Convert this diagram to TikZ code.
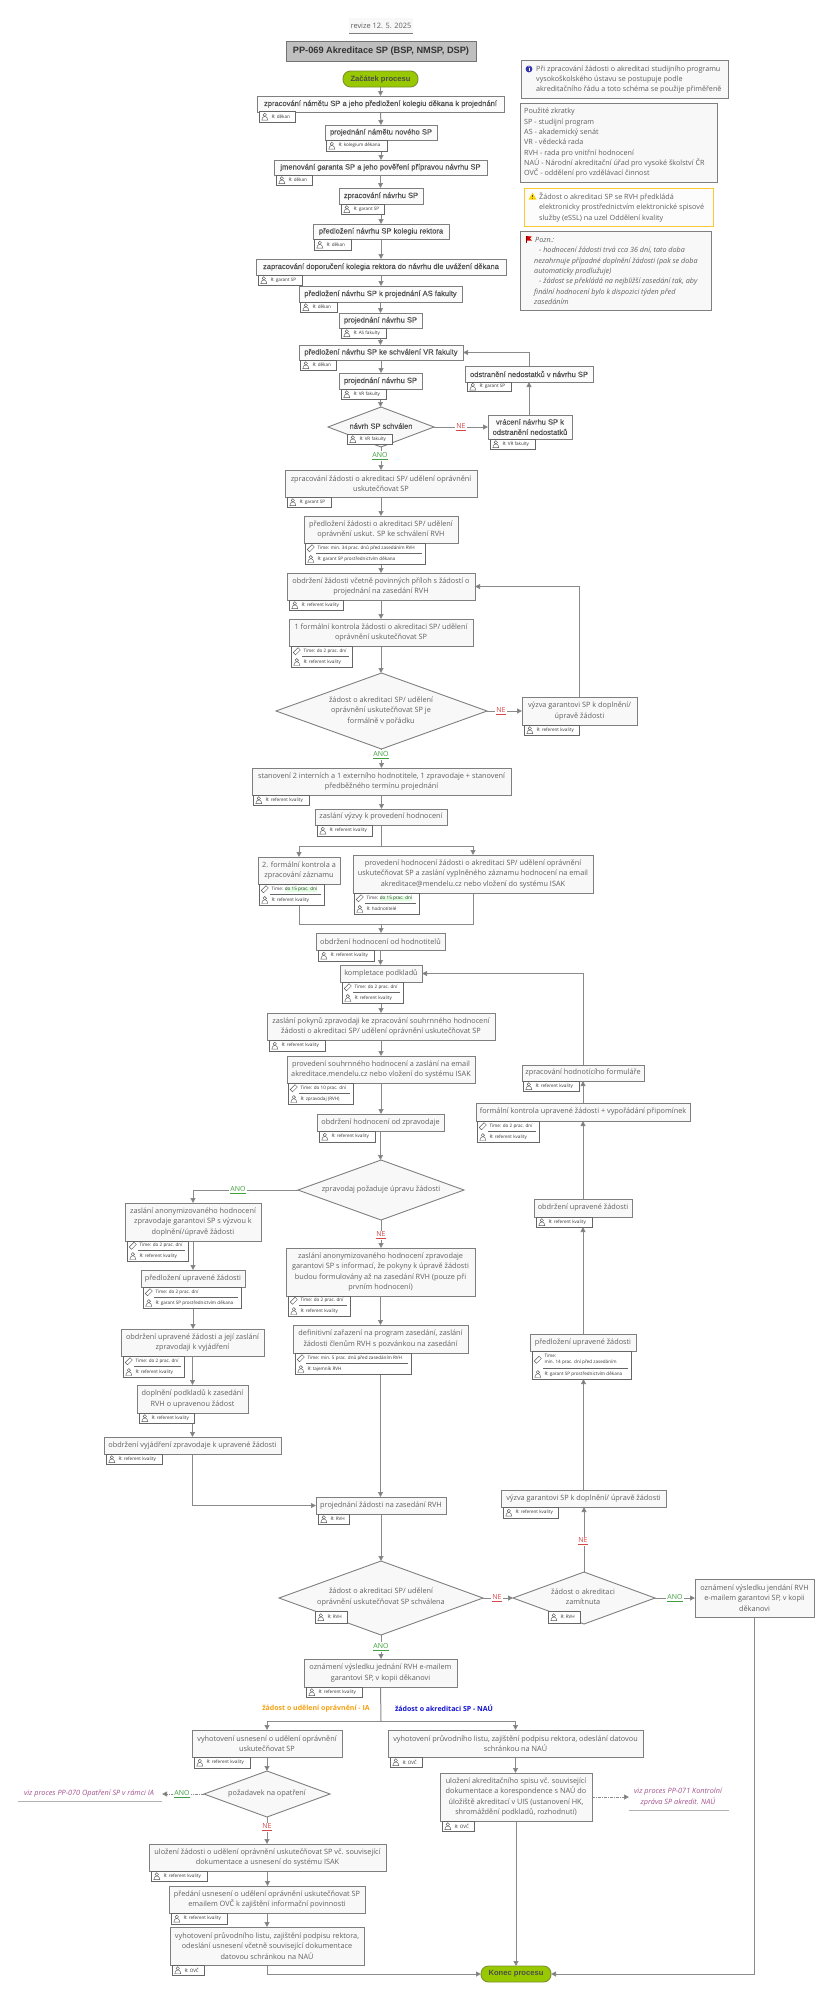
\documentclass[tikz,border=0pt]{standalone}
\usepackage{fontspec}
\setmainfont{Open Sans}
\newfontfamily\upf[FakeBold=0.12]{Liberation Sans}
\newfontfamily\arb{Liberation Sans}
\usetikzlibrary{shapes.geometric,arrows.meta,positioning}
\pgfdeclarelayer{bg}\pgfsetlayers{bg,main}
\definecolor{bordc}{HTML}{7F7F7F}
\definecolor{linec}{HTML}{8A8A8A}
\definecolor{fillc}{HTML}{F8F8F8}
\definecolor{txtc}{HTML}{5F5F5F}
\definecolor{uptxt}{HTML}{505050}
\definecolor{tagb}{HTML}{666666}
\definecolor{okc}{HTML}{3F9F3F}
\definecolor{noc}{HTML}{D4474B}
\definecolor{greenf}{HTML}{97C800}
\definecolor{greenb}{HTML}{7D8F30}
\definecolor{purp}{HTML}{A2508E}
\definecolor{orang}{HTML}{F5A010}
\definecolor{blu}{HTML}{1414D0}
\tikzset{
 stepbox/.style={draw=bordc,line width=0.9pt,fill=fillc,inner sep=0pt,outer sep=0pt,align=center,text=txtc,font=\fontsize{7.3}{10.3}\selectfont},
 upbox/.style={stepbox,fill=white!50!fillc,text=uptxt,font=\upf\fontsize{7.55}{10.3}\selectfont},
 tagbox/.style={draw=tagb,line width=0.7pt,fill=white,inner sep=0pt,outer sep=0pt},
 tagtext/.style={inner sep=0pt,outer sep=0pt,anchor=west,align=left,text=black!80,font=\fontsize{4.6}{6}\selectfont},
 dmd/.style={diamond,draw=bordc,line width=0.9pt,fill=fillc,inner sep=0pt,outer sep=0pt},
 dtext/.style={inner sep=0pt,align=center,text=txtc,font=\fontsize{7.3}{10.3}\selectfont},
 notebox/.style={draw=bordc,line width=0.9pt,fill=fillc,inner sep=0pt,outer sep=0pt},
 notetext/.style={inner sep=0pt,anchor=west,align=left,text=txtc,font=\fontsize{7.2}{10.3}\selectfont},
 termbox/.style={rectangle,rounded corners=7.5pt,draw=greenb,line width=0.9pt,fill=greenf,inner sep=0pt,outer sep=0pt,text=black!70,font=\arb\bfseries\fontsize{7.6}{9}\selectfont},
 arr/.style={draw=linec,line width=1pt,-{Triangle[length=5pt,width=5pt,fill=linec!80!black]}},
 lin/.style={draw=linec,line width=1pt},
 darr/.style={arr,dash pattern=on 3pt off 1pt on 1pt off 1pt},
 okl/.style={inner sep=1pt,fill=white,text=okc,font=\fontsize{7}{8}\selectfont},
 nol/.style={inner sep=1pt,fill=white,text=noc,font=\fontsize{7}{8}\selectfont},
 viz/.style={inner sep=0pt,align=center,text=purp,font=\itshape\fontsize{7.3}{10.2}\selectfont},
 icon/.style={draw=black!65,line width=0.45pt,fill=none},
}
% box: [style]{name}{x1}{y1}{x2}{y2}{text}
\newcommand{\bx}[7][stepbox]{%
 \pgfmathsetmacro\cxv{(#3+#5)/2}\pgfmathsetmacro\cyv{(#4+#6)/2}%
 \pgfmathsetmacro\wv{#5-#3}\pgfmathsetmacro\hv{#6-#4}%
 \node[#1,minimum width=\wv pt,minimum height=\hv pt] (#2) at (\cxv,\cyv) {#7};}
\newcommand{\persn}[2]{%
 \draw[icon] (#1,#2-1.6) circle (1.7pt);
 \draw[icon] (#1-3,#2+3.7) .. controls (#1-3,#2+1) and (#1-1.5,#2+0.6) .. (#1-1,#2+0.2) -- (#1+1,#2+0.2) .. controls (#1+1.5,#2+0.6) and (#1+3,#2+1) .. (#1+3,#2+3.7) -- cycle;}
\newcommand{\timeico}[2]{%
 \draw[icon,rotate around={45:(#1,#2)}] (#1-3.4,#2-1.6) rectangle (#1+3.4,#2+1.6);}
% tag with responsible only: {name}{x1}{y1}{x2}{y2}{text}
\newcommand{\tagA}[6]{%
 \bx[tagbox]{#1}{#2}{#3}{#4}{#5}{}%
 \pgfmathsetmacro\ic{#2+5.8}\pgfmathsetmacro\jc{(#3+#5)/2}\pgfmathsetmacro\tc{#2+12.5}%
 \persn{\ic}{\jc}%
 \node[tagtext] (#1t) at (\tc,\jc) {#6};}
% tag with time and responsible
\newcommand{\tagB}[7]{%
 \bx[tagbox]{#1}{#2}{#3}{#4}{#5}{}%
 \pgfmathsetmacro\ic{#2+5.8}\pgfmathsetmacro\tc{#2+12.5}%
 \pgfmathsetmacro\ja{(#3+#5-10.5)/2}\pgfmathsetmacro\jb{#5-5.2}\pgfmathsetmacro\jd{#5-10.5}%
 \pgfmathsetmacro\xe{#4-3}\pgfmathsetmacro\xf{#2+11}%
 \timeico{\ic}{\ja}\persn{\ic}{\jb}%
 \draw[draw=tagb,line width=0.5pt] (\xf,\jd) -- (\xe,\jd);
 \node[tagtext] (#1t) at (\tc,\ja) {#6};
 \node[tagtext] (#1u) at (\tc,\jb) {#7};}
\newcommand{\grn}[1]{{\setlength{\fboxsep}{0pt}\colorbox{green!12}{#1}}}
\begin{document}
\begin{tikzpicture}[x=1pt,y=-1pt]
\useasboundingbox (0,0) rectangle (831,2000);
% header
\bx[draw=none,fill=fillc,inner sep=0pt,outer sep=0pt,text=txtc,font=\fontsize{7.4}{9}\selectfont]{rev}{349}{18}{413}{33}{revize 12. 5. 2025}
\draw[draw=bordc,line width=0.7pt] (rev.south west) -- (rev.south east);
\bx[draw=black!55,line width=0.9pt,fill=black!25,inner sep=0pt,outer sep=0pt,text=black!80,font=\arb\bfseries\fontsize{9.2}{11}\selectfont]{title}{286}{41}{476}{61}{PP-069 Akreditace SP (BSP, NMSP, DSP)}
\bx[termbox]{start}{343}{71}{418}{87}{Začátek procesu}
% upper steps
\bx[upbox]{s1}{257}{96}{504}{112}{zpracování námětu SP a jeho předložení kolegiu děkana k projednání}
\tagA{s1r}{259}{111}{295}{122}{R: děkan}
\bx[upbox]{s2}{325}{125}{437}{140}{projednání námětu nového SP}
\tagA{s2r}{326}{140}{387}{151}{R: kolegium děkana}
\bx[upbox]{s3}{274}{160}{487}{175}{jmenování garanta SP a jeho pověření přípravou návrhu SP}
\tagA{s3r}{276}{175}{312}{185}{R: děkan}
\bx[upbox]{s4}{339}{188}{423}{204}{zpracování návrhu SP}
\tagA{s4r}{341}{204}{384}{214}{R: garant SP}
\bx[upbox]{s5}{313}{224}{449}{239}{předložení návrhu SP kolegiu rektora}
\tagA{s5r}{314}{239}{351}{250}{R: děkan}
\bx[upbox]{s6}{256}{259}{506}{275}{zapracování doporučení kolegia rektora do návrhu dle uvážení děkana}
\tagA{s6r}{258}{275}{302}{285}{R: garant SP}
\bx[upbox]{s7}{299}{286}{462}{302}{předložení návrhu SP k projednání AS fakulty}
\tagA{s7r}{300}{302}{337}{312}{R: děkan}
\bx[upbox]{s8}{339}{313}{422}{328}{projednání návrhu SP}
\tagA{s8r}{341}{328}{386}{338}{R: AS fakulty}
\bx[upbox]{s9}{299}{345}{463}{360}{předložení návrhu SP ke schválení VR fakulty}
\tagA{s9r}{300}{360}{336}{370}{R: děkan}
\bx[upbox]{s10}{339}{373}{422}{389}{projednání návrhu SP}
\tagA{s10r}{341}{389}{386}{399}{R: VR fakulty}
\bx[dmd]{d1}{328}{407}{434}{447}{}
\node[dtext,font=\upf\fontsize{7.55}{10.3}\selectfont,text=uptxt] (d1t) at (381,426) {návrh SP schválen};
\tagA{d1r}{347}{434}{392}{444}{R: VR fakulty}
\bx[upbox]{r1}{488}{415}{572}{439}{vrácení návrhu SP k\\odstranění nedostatků}
\tagA{r1r}{490}{439}{535}{449}{R: VR fakulty}
\bx[upbox]{r2}{465}{366}{593}{382}{odstranění nedostatků v návrhu SP}
\tagA{r2r}{467}{382}{511}{391}{R: garant SP}
% application
\bx{s11}{285}{470}{477}{497}{zpracování žádosti o akreditaci SP/ udělení oprávnění\\uskutečňovat SP}
\tagA{s11r}{287}{497}{331}{507}{R: garant SP}
\bx{s12}{304}{516}{458}{543}{předložení žádosti o akreditaci SP/ udělení\\oprávnění uskut. SP ke schválení RVH}
\tagB{s12r}{305}{543}{425}{564}{Time: min. 34 prac. dnů před zasedáním  RVH}{R: garant SP prostřednictvím děkana}
\bx{s13}{287}{573}{475}{600}{obdržení žádosti včetně povinných příloh s žádostí o\\projednání na zasedání RVH}
\tagA{s13r}{289}{600}{343}{610}{R: referent kvality}
\bx{s14}{289}{619}{473}{646}{1 formální kontrola žádosti o akreditaci SP/ udělení\\oprávnění uskutečňovat SP}
\tagB{s14r}{291}{646}{352}{667}{Time: do 2 prac. dní}{R: referent kvality}
\bx[dmd]{d2}{276}{673}{487}{749}{}
\node[dtext] (d2t) at (381,711) {žádost o akreditaci SP/ udělení\\oprávnění uskutečňovat SP je\\formálně v pořádku};
\bx{r3}{522}{697}{637}{725}{výzva garantovi SP k doplnění/\\úpravě žádosti}
\tagA{r3r}{524}{725}{579}{735}{R: referent kvality}
\bx{s15}{252}{768}{511}{795}{stanovení 2 interních a 1 externího hodnotitele, 1 zpravodaje + stanovení\\předběžného termínu projednání}
\tagA{s15r}{253}{795}{309}{805}{R: referent kvality}
\bx{s16}{315}{809}{447}{825}{zaslání výzvy k provedení hodnocení}
\tagA{s16r}{317}{825}{372}{836}{R: referent kvality}
\bx{s17}{258}{857}{340}{884}{2. formální kontrola a\\zpracování záznamu}
\tagB{s17r}{259}{884}{324}{905}{Time: \grn{do 15 prac. dní}}{R: referent kvality}
\bx{s18}{353}{855}{593}{893}{provedení hodnocení žádosti o akreditaci SP/ udělení oprávnění\\uskutečňovat SP a zaslání vyplněného záznamu hodnocení na email\\akreditace@mendelu.cz nebo vložení do systému ISAK}
\tagB{s18r}{354}{893}{419}{914}{Time: \grn{do 15 prac. dní}}{R: hodnotitelé}
\bx{s19}{316}{933}{445}{950}{obdržení hodnocení od hodnotitelů}
\tagA{s19r}{318}{950}{374}{961}{R: referent kvality}
\bx{s20}{340}{965}{422}{982}{kompletace podkladů}
\tagB{s20r}{342}{982}{403}{1003}{Time: do 2 prac. dní}{R: referent kvality}
\bx{s21}{267}{1013}{495}{1040}{zaslání pokynů zpravodaji ke zpracování souhrnného hodnocení\\žádosti o akreditaci SP/ udělení oprávnění uskutečňovat SP}
\tagA{s21r}{269}{1040}{325}{1051}{R: referent kvality}
\bx{s22}{287}{1056}{475}{1083}{provedení souhrnného hodnocení a zaslání na email\\akreditace.mendelu.cz nebo vložení do systému ISAK}
\tagB{s22r}{288}{1083}{353}{1104}{Time: do 10 prac. dní}{R: zpravodaj (RVH)}
\bx{s23}{317}{1114}{444}{1131}{obdržení hodnocení od zpravodaje}
\tagA{s23r}{319}{1131}{375}{1142}{R: referent kvality}
\bx[dmd]{d3}{298}{1160}{464}{1220}{}
\node[dtext] (d3t) at (381,1190) {zpravodaj požaduje úpravu žádosti};
\bx{s24}{286}{1248}{475}{1296}{zaslání anonymizovaného hodnocení zpravodaje\\garantovi SP s informací, že pokyny k úpravě žádosti\\budou formulovány až na zasedání RVH (pouze při\\prvním hodnocení)}
\tagB{s24r}{288}{1296}{350}{1316}{Time: do 2 prac. dní}{R: referent kvality}
\bx{s25}{293}{1325}{468}{1353}{definitivní zařazení na program zasedání, zaslání\\žádosti členům RVH s pozvánkou na zasedání}
\tagB{s25r}{295}{1353}{411}{1374}{Time: min. 5 prac. dnů před zasedáním RVH}{R: tajemník RVH}
% left branch
\bx{l1}{125}{1203}{261}{1241}{zaslání anonymizovaného hodnocení\\zpravodaje garantovi SP s výzvou k\\doplnění/úpravě žádosti}
\tagB{l1r}{127}{1241}{188}{1261}{Time: do 2 prac. dní}{R: referent kvality}
\bx{l2}{141}{1270}{245}{1287}{předložení upravené žádosti}
\tagB{l2r}{143}{1287}{241}{1308}{Time: do 2 prac. dní}{R: garant SP prostřednictvím děkana}
\bx{l3}{121}{1329}{264}{1356}{obdržení upravené žádosti a její zaslání\\zpravodaji k vyjádření}
\tagB{l3r}{123}{1356}{184}{1377}{Time: do 2 prac. dní}{R: referent kvality}
\bx{l4}{137}{1385}{248}{1413}{doplnění podkladů k zasedání\\RVH o upravenou žádost}
\tagA{l4r}{139}{1413}{194}{1423}{R: referent kvality}
\bx{l5}{104}{1437}{281}{1454}{obdržení vyjádření zpravodaje k upravené žádosti}
\tagA{l5r}{106}{1454}{162}{1464}{R: referent kvality}
% right column
\bx{r5}{522}{1065}{644}{1081}{zpracování hodnotícího formuláře}
\tagA{r5r}{523}{1081}{579}{1091}{R: referent kvality}
\bx{r6}{476}{1103}{690}{1121}{formální kontrola upravené žádosti + vypořádání připomínek}
\tagB{r6r}{477}{1121}{539}{1142}{Time: do 2 prac. dní}{R: referent kvality}
\bx{r7}{534}{1199}{632}{1217}{obdržení upravené žádosti}
\tagA{r7r}{536}{1217}{592}{1227}{R: referent kvality}
\bx{r8}{530}{1334}{636}{1351}{předložení upravené žádosti}
\tagB{r8r}{532}{1351}{631}{1379}{Time:\\min. 14 prac. dní před zasedáním}{R: garant SP prostřednictvím děkana}
\bx{r9}{501}{1490}{666}{1507}{výzva garantovi SP k doplnění/ úpravě žádosti}
\tagA{r9r}{503}{1507}{558}{1518}{R: referent kvality}
\bx{s26}{316}{1497}{446}{1514}{projednání žádosti na zasedání RVH}
\tagA{s26r}{318}{1514}{349}{1524}{R: RVH}
\bx[dmd]{d4}{279}{1561}{483}{1635}{}
\node[dtext] (d4t) at (381,1597) {žádost o akreditaci SP/ udělení\\oprávnění uskutečňovat SP schválena};
\tagA{d4r}{315}{1611}{347}{1623}{R: RVH}
\bx[dmd]{d5}{513}{1572}{655}{1624}{}
\node[dtext] (d5t) at (583,1597) {žádost o akreditaci\\zamítnuta};
\tagA{d5r}{548}{1611}{580}{1623}{R: RVH}
\bx{r10}{695}{1579}{814}{1617}{oznámení výsledku jendání RVH\\e-mailem garantovi SP, v kopii\\děkanovi}
\bx{s27}{304}{1659}{457}{1687}{oznámení výsledku jednání RVH e-mailem\\garantovi SP, v kopii děkanovi}
\tagA{s27r}{306}{1687}{362}{1697}{R: referent kvality}
\bx{a1}{192}{1730}{342}{1757}{vyhotovení usnesení o udělení oprávnění\\uskutečňovat SP}
\tagA{a1r}{194}{1757}{250}{1768}{R: referent kvality}
\bx[dmd]{d6}{204}{1771}{330}{1817}{}
\node[dtext] (d6t) at (267,1794) {požadavek na opatření};
\bx{a2}{149}{1844}{386}{1871}{uložení žádosti o udělení oprávnění uskutečňovat SP vč. související\\dokumentace a usnesení do systému ISAK}
\tagA{a2r}{151}{1871}{207}{1881}{R: referent kvality}
\bx{a3}{169}{1886}{365}{1913}{předání usnesení o udělení oprávnění uskutečňovat SP\\emailem OVČ k zajištění informační povinnosti}
\tagA{a3r}{171}{1913}{227}{1924}{R: referent kvality}
\bx{a4}{170}{1927}{364}{1965}{vyhotovení průvodního listu, zajištění podpisu rektora,\\odeslání usnesení včetně související dokumentace\\datovou schránkou na NAÚ}
\tagA{a4r}{172}{1965}{204}{1975}{R: OVČ}
\bx{s29}{388}{1730}{643}{1757}{vyhotovení průvodního listu, zajištění podpisu rektora, odeslání datovou\\schránkou na NAÚ}
\tagA{s29r}{390}{1757}{422}{1767}{R: OVČ}
\bx{s30}{440}{1773}{592}{1821}{uložení akreditačního spisu vč. související\\dokumentace a korespondence s NAÚ do\\úložiště akreditací v UIS (ustanovení HK,\\shromáždění podkladů, rozhodnutí)}
\tagA{s30r}{442}{1821}{474}{1831}{R: OVČ}
\bx[termbox]{end}{481}{1966}{551}{1982}{Konec procesu}
% external references
\node[viz] (v70) at (89,1794) {viz proces PP-070 Opatření SP v rámci IA};
\draw[draw=black!30,line width=0.8pt] (18,1801) -- (162,1801);
\coordinate (v70e) at (162,1794);
\node[viz] (v71) at (678,1797) {viz proces PP-071 Kontrolní\\zpráva SP akredit. NAÚ};
\draw[draw=black!30,line width=0.8pt] (629,1810) -- (729,1810);
\coordinate (v71e) at (629,1797);
% branch labels
\node[inner sep=0pt,text=orang,font=\bfseries\fontsize{7}{9}\selectfont] (lia) at (316,1709) {žádost o udělení oprávnění - IA};
\node[inner sep=0pt,text=blu,font=\bfseries\fontsize{7}{9}\selectfont] (lna) at (444,1708) {žádost o akreditaci SP - NAÚ};
% decision labels
\node[nol] (n1) at (461,427) {\underline{NE}};
\node[okl] (o1) at (380,456) {\underline{ANO}};
\node[nol] (n2) at (501,711) {\underline{NE}};
\node[okl] (o2) at (381,755) {\underline{ANO}};
\node[okl] (o3) at (238,1190) {\underline{ANO}};
\node[nol] (n3) at (381,1235) {\underline{NE}};
\node[nol] (n4) at (497,1598) {\underline{NE}};
\node[okl] (o4) at (675,1598) {\underline{ANO}};
\node[nol] (n5) at (583,1541) {\underline{NE}};
\node[okl] (o5) at (381,1647) {\underline{ANO}};
\node[okl] (o6) at (182,1794) {\underline{ANO}};
\node[nol] (n6) at (267,1827) {\underline{NE}};
% note boxes with their icons
\bx[notebox]{n1b}{521}{60}{728}{98}{}
\node[notetext] (n1t) at (536,79.5) {Při zpracování žádosti o akreditaci studijního programu\\vysokoškolského ústavu se postupuje podle\\akreditačního řádu a toto schéma se použije přiměřeně};
\fill[blue!60!black!80] (529,69) circle (3.4pt);
\fill[white] (529,66.8) circle (0.6pt);
\draw[white,line width=0.9pt] (529,68.3) -- (529,71.4);
\bx[notebox]{n2b}{520}{103}{717}{182}{}
\node[notetext] (n2t) at (524,143) {Použité zkratky\\SP - studijní program\\AS - akademický senát\\VR - vědecká rada\\RVH - rada pro vnitřní hodnocení\\NAÚ - Národní akreditační úřad pro vysoké školství ČR\\OVČ - oddělení pro vzdělávací činnost};
\bx[draw=orange!55!yellow!80,line width=1pt,fill=white!60!fillc,inner sep=0pt,outer sep=0pt]{n3b}{524}{188}{713}{226}{}
\node[notetext] (n3t) at (539,207.5) {Žádost o akreditaci SP se RVH předkládá\\elektronicky prostřednictvím elektronické spisové\\služby (eSSL) na uzel Oddělení kvality};
\fill[yellow!75!orange] (532.5,192.5) -- (536.5,199.5) -- (528.5,199.5) -- cycle;
\draw[black!70,line width=0.7pt] (532.5,194.5) -- (532.5,197.3);
\fill[black!70] (532.5,198.6) circle (0.4pt);
\bx[notebox]{n4b}{520}{231}{711}{310}{}
\node[notetext,font=\itshape\fontsize{7.2}{10.35}\selectfont] (n4a) at (535,240) {Pozn.:};
\node[notetext,font=\itshape\fontsize{7.2}{10.35}\selectfont] (n4t) at (534,276) {\hspace{5pt}- hodnocení žádosti trvá cca 36 dní, tato doba\\nezahrnuje případné doplnění žádosti (pak se doba\\automaticky prodlužuje)\\\hspace{5pt}- žádost se překládá na nejbližší zasedání  tak, aby\\finální hodnocení bylo k dispozici týden před\\zasedáním};
\fill[red!85!black] (526,236) -- (532,236.6) -- (529.8,238.4) -- (532,240.6) -- (526,240.6) -- cycle;
\draw[red!50!black,line width=0.5pt] (526,236) -- (526,243);
% connectors
\begin{pgfonlayer}{bg}
\coordinate (fk1) at (381,846);
\coordinate (mg) at (381,924);
\coordinate (fk2) at (381,1721);
\draw[arr] (start.south) -- (s1.north -| start.south);
\draw[arr] (s1.south) -- (s2.north);
\draw[arr] (s2.south) -- (s3.north -| s2.south);
\draw[arr] (s3.south) -- (s4.north -| s3.south);
\draw[arr] (s4.south) -- (s5.north -| s4.south);
\draw[arr] (s5.south) -- (s6.north -| s5.south);
\draw[arr] (s6.south) -- (s7.north -| s6.south);
\draw[arr] (s7.south) -- (s8.north -| s7.south);
\draw[arr] (s8.south) -- (s9.north -| s8.south);
\draw[arr] (s9.south) -- (s10.north -| s9.south);
\draw[arr] (s10.south) -- (d1.north -| s10.south);
\draw[arr] (d1.east) -- (r1.west |- d1.east);
\draw[arr] (r1.north -| r2.south) -- (r2.south);
\draw[arr] (r2.north) |- (s9.east);
\draw[arr] (d1.south) -- (s11.north -| d1.south);
\draw[arr] (s11.south) -- (s12.north -| s11.south);
\draw[arr] (s12.south) -- (s13.north -| s12.south);
\draw[arr] (s13.south) -- (s14.north -| s13.south);
\draw[arr] (s14.south) -- (d2.north -| s14.south);
\draw[arr] (d2.east) -- (r3.west |- d2.east);
\draw[arr] (r3.north) |- (s13.east);
\draw[arr] (d2.south) -- (s15.north -| d2.south);
\draw[arr] (s15.south) -- (s16.north -| s15.south);
\draw[lin] (s16.south) -- (fk1);
\draw[arr] (fk1) -| (s17.north);
\draw[arr] (fk1) -| (s18.north);
\draw[lin] (s17.south) |- (mg);
\draw[lin] (s18.south) |- (mg);
\draw[arr] (mg) -- (s19.north -| mg);
\draw[arr] (s19.south) -- (s20.north -| s19.south);
\draw[arr] (s20.south) -- (s21.north -| s20.south);
\draw[arr] (s21.south) -- (s22.north -| s21.south);
\draw[arr] (s22.south) -- (s23.north -| s22.south);
\draw[arr] (s23.south) -- (d3.north -| s23.south);
\draw[arr] (d3.south) -- (s24.north -| d3.south);
\draw[arr] (d3.west) -| (l1.north);
\draw[arr] (l1.south) -- (l2.north -| l1.south);
\draw[arr] (l2.south) -- (l3.north -| l2.south);
\draw[arr] (l3.south) -- (l4.north -| l3.south);
\draw[arr] (l4.south) -- (l5.north -| l4.south);
\draw[arr] (l5.south) |- (s26.west);
\draw[arr] (s24.south) -- (s25.north -| s24.south);
\draw[arr] (s25.south) -- (s26.north -| s25.south);
\draw[arr] (s26.south) -- (d4.north -| s26.south);
\draw[arr] (d4.east) -- (d5.west);
\draw[arr] (d5.east) -- (r10.west |- d5.east);
\draw[arr] (d5.north) -- (r9.south -| d5.north);
\draw[arr] (r9.north) -- (r8r.south -| r9.north);
\draw[arr] (r8.north) -- (r7r.south -| r8.north);
\draw[arr] (r7.north) -- (r6.south -| r7.north);
\draw[arr] (r6.north) -- (r5.south -| r6.north);
\draw[arr] (r5.north) |- (s20.east);
\draw[arr] (r10.south) |- (end.east);
\draw[arr] (d4.south) -- (s27.north -| d4.south);
\draw[lin] (s27.south) -- (fk2);
\draw[arr] (fk2) -| (s29.north);
\draw[arr] (fk2) -| (a1.north);
\draw[arr] (a1.south) -- (d6.north -| a1.south);
\draw[darr] (d6.west) -- (v70e);
\draw[arr] (d6.south) -- (a2.north -| d6.south);
\draw[arr] (a2.south) -- (a3.north -| a2.south);
\draw[arr] (a3.south) -- (a4.north -| a3.south);
\draw[arr] (a4.south) |- (end.west);
\draw[arr] (s29.south) -- (s30.north -| s29.south);
\draw[darr] (s30.east |- v71e) -- (v71e);
\draw[arr] (s30.south) -- (end.north -| s30.south);
\end{pgfonlayer}
\end{tikzpicture}
\end{document}
